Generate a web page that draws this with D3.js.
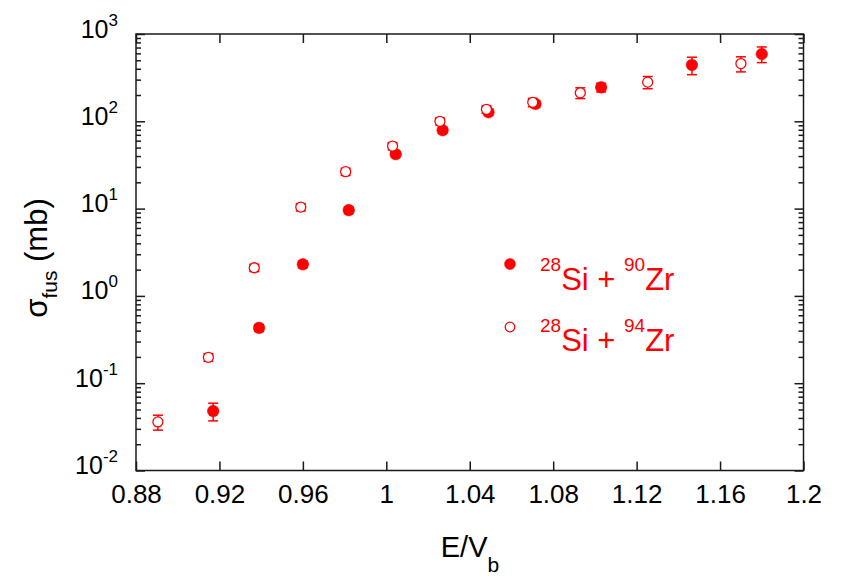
<!DOCTYPE html>
<html>
<head>
<meta charset="utf-8">
<script src="https://cdn.jsdelivr.net/npm/d3@7"></script>
<style>
  body { margin: 0; background: #fff; }
  svg text { font-family: "Liberation Sans", Arial, Helvetica, sans-serif; }
</style>
</head>
<body>
<svg width="858" height="581"></svg>
<script>
// 28Si + 90Zr (filled)
const e90 = [0.917, 0.939, 0.960, 0.982, 1.0045, 1.027, 1.049, 1.0715, 1.103, 1.1465, 1.180]
const sig90 = [0.048, 0.43, 2.3, 9.6, 42, 79, 127, 158, 245, 442, 590]
const err90 = [0.011, 0.04, 0.2, 0.8, 3, 6, 10, 14, 28, 100, 120]

// 28Si + 94Zr (open)
const e94 = [0.8905, 0.9147, 0.9367, 0.959, 0.9805, 1.003, 1.0257, 1.048, 1.0702, 1.093, 1.1253, 1.170]
const sig94 = [0.036, 0.198, 2.10, 10.4, 26.5, 52, 100, 137, 165, 212, 281, 458]
const err94 = [0.007, 0.02, 0.2, 1, 2.5, 5, 9, 13, 18, 30, 45, 90]

const xTicks = [0.88, 0.92, 0.96, 1.0, 1.04, 1.08, 1.12, 1.16, 1.2]
const xTickLabels = ['0.88', '0.92', '0.96', '1', '1.04', '1.08', '1.12', '1.16', '1.2']
const yTicks = [1e-2, 1e-1, 1e0, 1e1, 1e2, 1e3]
const yExp = ['-2', '-1', '0', '1', '2', '3']

const plotL = 136, plotR = 803.5, plotT = 34, plotB = 470.5
const red = '#ff0000', ink = '#1a1a1a'

const x = d3.scaleLinear().domain([0.88, 1.2]).range([plotL, plotR])
const y = d3.scaleLog().domain([0.01, 1000]).range([plotB, plotT])

const yMinor = []
for (let p = -2; p < 3; p++) {
  for (let m = 2; m <= 9; m++) yMinor.push(m * Math.pow(10, p))
}

const svg = d3.select('svg')

function styleAxis (g) {
  g.select('.domain').remove()
  g.selectAll('.tick line').attr('stroke', ink).attr('stroke-width', 1.5)
}

// bottom axis with labels
svg.append('g')
  .attr('transform', 'translate(0,' + plotB + ')')
  .call(d3.axisBottom(x).tickValues(xTicks).tickSize(-9).tickPadding(14)
    .tickFormat((d, i) => xTickLabels[i]))
  .call(styleAxis)
  .call(g => g.selectAll('.tick text').attr('font-size', 26).attr('fill', '#000')
    .attr('font-family', '"Liberation Sans", Arial, sans-serif'))

// top axis
svg.append('g')
  .attr('transform', 'translate(0,' + plotT + ')')
  .call(d3.axisTop(x).tickValues(xTicks).tickSize(-9).tickFormat(''))
  .call(styleAxis)

// left axis
svg.append('g')
  .attr('transform', 'translate(' + plotL + ',0)')
  .call(d3.axisLeft(y).tickValues(yTicks).tickSize(-9).tickPadding(18).tickFormat(() => '10'))
  .call(styleAxis)
  .call(g => g.selectAll('.tick text')
    .attr('font-size', 25).attr('fill', '#000').attr('dy', 3)
    .attr('font-family', '"Liberation Sans", Arial, sans-serif')
    .each(function (d, i) {
      d3.select(this).append('tspan').attr('dy', -12).attr('font-size', 17).text(yExp[i])
    }))

svg.append('g')
  .attr('transform', 'translate(' + plotL + ',0)')
  .call(d3.axisLeft(y).tickValues(yMinor).tickSize(-5).tickFormat(''))
  .call(styleAxis)

// right axis
svg.append('g')
  .attr('transform', 'translate(' + plotR + ',0)')
  .call(d3.axisRight(y).tickValues(yTicks).tickSize(-9).tickFormat(''))
  .call(styleAxis)
svg.append('g')
  .attr('transform', 'translate(' + plotR + ',0)')
  .call(d3.axisRight(y).tickValues(yMinor).tickSize(-5).tickFormat(''))
  .call(styleAxis)

// frame
svg.append('rect')
  .attr('x', plotL).attr('y', plotT)
  .attr('width', plotR - plotL).attr('height', plotB - plotT)
  .attr('fill', 'none').attr('stroke', ink).attr('stroke-width', 1.5)

// axis titles
const yt = svg.append('text')
  .attr('transform', 'translate(47,258) rotate(-90)')
  .attr('text-anchor', 'middle').attr('font-size', 31).attr('fill', '#000')
yt.append('tspan').text('σ')
yt.append('tspan').attr('dy', 10).attr('font-size', 21).text('fus')
yt.append('tspan').attr('dy', -10).text(' (mb)')

const xt = svg.append('text')
  .attr('x', 470).attr('y', 557)
  .attr('text-anchor', 'middle').attr('font-size', 29).attr('fill', '#000')
xt.append('tspan').text('E/V')
xt.append('tspan').attr('dy', 15).attr('font-size', 21).text('b')

function drawSeries (E, S, Err, filled) {
  const rows = E.map((e, i) => ({ e: e, s: S[i], err: Err[i] }))
  const g = svg.append('g')
  const bars = g.selectAll('g.bar').data(rows).enter().append('g').attr('class', 'bar')
    .attr('stroke', red).attr('stroke-width', 1.5)
  bars.append('line')
    .attr('x1', d => x(d.e)).attr('x2', d => x(d.e))
    .attr('y1', d => y(d.s - d.err)).attr('y2', d => y(d.s + d.err))
  bars.append('line')
    .attr('x1', d => x(d.e) - 5).attr('x2', d => x(d.e) + 5)
    .attr('y1', d => y(d.s - d.err)).attr('y2', d => y(d.s - d.err))
  bars.append('line')
    .attr('x1', d => x(d.e) - 5).attr('x2', d => x(d.e) + 5)
    .attr('y1', d => y(d.s + d.err)).attr('y2', d => y(d.s + d.err))
  g.selectAll('circle').data(rows).enter().append('circle')
    .attr('cx', d => x(d.e)).attr('cy', d => y(d.s))
    .attr('r', filled ? 5.8 : 5)
    .attr('fill', filled ? red : '#fff')
    .attr('stroke', red).attr('stroke-width', filled ? 0.5 : 1.3)
}

drawSeries(e90, sig90, err90, true)
drawSeries(e94, sig94, err94, false)

// legend
const legend = [
  { mass: '90', filled: true, cy: 264, base: 290 },
  { mass: '94', filled: false, cy: 327, base: 351 }
]
legend.forEach(function (d) {
  svg.append('circle')
    .attr('cx', 510).attr('cy', d.cy).attr('r', d.filled ? 5.5 : 4.8)
    .attr('fill', d.filled ? red : '#fff')
    .attr('stroke', red).attr('stroke-width', d.filled ? 0.5 : 1.3)
  const t = svg.append('text')
    .attr('x', 540).attr('y', d.base)
    .attr('font-size', 31).attr('fill', red)
  t.append('tspan').attr('dy', -19).attr('font-size', 19).text('28')
  t.append('tspan').attr('dy', 19).text('Si + ')
  t.append('tspan').attr('dy', -19).attr('font-size', 19).text(d.mass)
  t.append('tspan').attr('dy', 19).text('Zr')
})
</script>
</body>
</html>
